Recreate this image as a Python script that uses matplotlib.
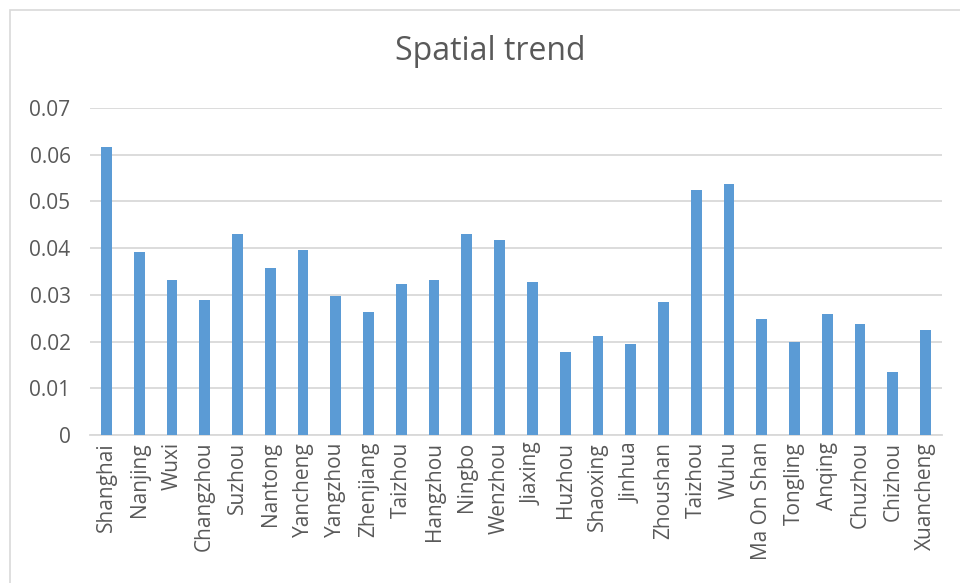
import matplotlib

matplotlib.use("Agg")
import matplotlib.pyplot as plt
from matplotlib.patches import Rectangle

# Values
cities = ["Shanghai", "Nanjing", "Wuxi", "Changzhou", "Suzhou", "Nantong",
          "Yancheng", "Yangzhou", "Zhenjiang", "Taizhou", "Hangzhou", "Ningbo",
          "Wenzhou", "Jiaxing", "Huzhou", "Shaoxing", "Jinhua", "Zhoushan",
          "Taizhou", "Wuhu", "Ma On Shan", "Tongling", "Anqing", "Chuzhou",
          "Chizhou", "Xuancheng"]
trend = [0.0616, 0.0392, 0.0332, 0.0289, 0.0430, 0.0357,
         0.0396, 0.0297, 0.0263, 0.0323, 0.0332, 0.0430,
         0.0418, 0.0327, 0.0177, 0.0212, 0.0195, 0.0284,
         0.0525, 0.0538, 0.0249, 0.0199, 0.0259, 0.0237,
         0.0134, 0.0225]
yticks = [0, 0.01, 0.02, 0.03, 0.04, 0.05, 0.06, 0.07]
ytick_labels = ["0", "0.01", "0.02", "0.03", "0.04", "0.05", "0.06", "0.07"]

BAR = "#5b9bd5"
TEXT = "#595959"
GRID = "#d9d9d9"

plt.rcParams["font.family"] = ["Open Sans", "DejaVu Sans"]

fig = plt.figure(figsize=(9.6, 5.83), dpi=100)
ax = fig.add_axes([90 / 960, 1 - 435 / 583, 852 / 960, 327 / 583])

x = list(range(len(cities)))
ax.bar(x, trend, width=0.33, color=BAR, zorder=3)

ax.set_xlim(-0.5, len(cities) - 0.5)
ax.set_ylim(0, 0.07)
ax.set_yticks(yticks)
ax.set_yticklabels(ytick_labels)
ax.set_xticks(x)
ax.set_xticklabels(cities, rotation=90, va="top", ha="center")

ax.grid(axis="y", color=GRID, linewidth=1.3, zorder=0)
for s in ("top", "right", "left"):
    ax.spines[s].set_visible(False)
ax.spines["bottom"].set_color(GRID)
ax.spines["bottom"].set_linewidth(1.3)
ax.tick_params(axis="both", length=0, colors=TEXT, labelsize=15)
ax.tick_params(axis="y", pad=14)
ax.tick_params(axis="x", pad=5)

fig.text(490 / 960, 1 - 52 / 583, "Spatial trend", ha="center", va="center",
         fontsize=23, color=TEXT)

# chart frame (left and top edges visible in the crop)
fig.patches.append(Rectangle((10 / 960, -0.1), 1.2, 1 - 10 / 583 + 0.1,
                             transform=fig.transFigure, fill=False,
                             edgecolor=GRID, linewidth=1.2))

fig.savefig("out.png", dpi=100, facecolor="white")
plt.close(fig)
